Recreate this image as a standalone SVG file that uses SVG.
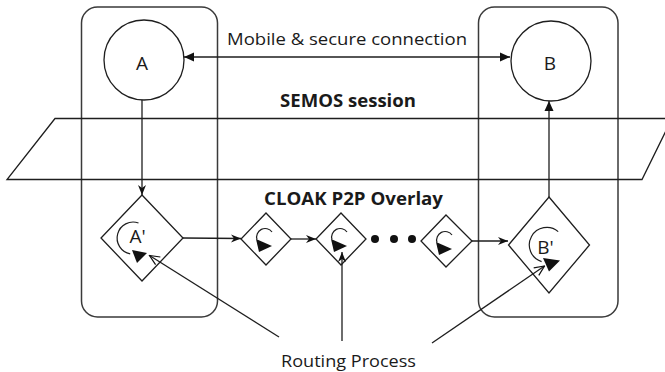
<svg xmlns="http://www.w3.org/2000/svg" width="665" height="372" viewBox="0 0 665 372">
<style>
.box{fill:none;stroke:#3a3a3a;stroke-width:1.5}
.ln{fill:none;stroke:#1e1e1e;stroke-width:1.3}
.nd{fill:#fff;stroke:#1e1e1e;stroke-width:1.3}
.arc{fill:none;stroke:#1e1e1e;stroke-width:1.2}
.tri{fill:#111;stroke:none}
.t{font-family:"Open Sans","Noto Sans",sans-serif;font-size:17px;fill:#1a1a1a;text-anchor:middle}
.big{font-size:19px}
.b{font-weight:bold}
</style>
<defs>
<marker id="solid" markerUnits="userSpaceOnUse" viewBox="-11 -5 12 10" markerWidth="12" markerHeight="10" refX="0" refY="0" orient="auto-start-reverse">
<path d="M0,0 L-10,-4.5 L-10,4.5 z" fill="#111"/>
</marker>
<marker id="stealth" markerUnits="userSpaceOnUse" viewBox="-11 -5 12 10" markerWidth="12" markerHeight="10" refX="0" refY="0" orient="auto">
<path d="M0,0 L-10,-4 L-7,0 L-10,4 z" fill="#111"/>
</marker>
<marker id="open" markerUnits="userSpaceOnUse" viewBox="-12 -6 13 12" markerWidth="13" markerHeight="12" refX="0" refY="0" orient="auto">
<path d="M-10,-4.5 L0,0 L-10,4.5" fill="none" stroke="#111" stroke-width="1.2"/>
</marker>
<g id="spin">
<path class="arc" d="M6,-7 A8.5 8.5 0 0 0 -9,0.5"/>
<polygon class="tri" points="-10,0 -7,13 6,7"/>
</g>
</defs>

<g id="domainA"><rect class="box" x="81.5" y="7" width="136" height="310" rx="16"/></g>
<g id="domainB"><rect class="box" x="478.5" y="7" width="139.5" height="310" rx="16"/></g>

<g id="semos-plane">
<polyline class="ln" points="690,118.5 55,118.5 7,179.5 642,179.5 672,118.5"/>
</g>

<g id="nodeA"><circle class="nd" cx="144" cy="60" r="40"/><text class="t big" x="142" y="70">A</text></g>
<g id="nodeB"><circle class="nd" cx="551" cy="61" r="40"/><text class="t big" x="550" y="70">B</text></g>

<g id="nodeA2">
<polygon class="nd" points="142,195 183,238 142,281 101,238"/>
<path class="arc" d="M138.5,223 A16 16 0 1 0 130.2,253.8"/>
<polygon class="tri" points="132,250 137,263 147,253"/>
<text class="t big" x="137.5" y="242.5">A'</text>
</g>
<g id="relay1"><polygon class="nd" points="266,213 291,239 266,265 241,239"/><use href="#spin" x="266" y="239"/></g>
<g id="relay2"><polygon class="nd" points="341,213 366,239 341,265 316,239"/><use href="#spin" x="341" y="239"/></g>
<g id="dots"><circle cx="375" cy="239" r="4" fill="#111"/><circle cx="394" cy="239" r="4" fill="#111"/><circle cx="412" cy="239" r="4" fill="#111"/></g>
<g id="relay3"><polygon class="nd" points="446,215 472,241 446,267 421,241"/><use href="#spin" x="446" y="242"/></g>
<g id="nodeB2">
<polygon class="nd" points="549,197 589.5,245 549,293 508.5,245"/>
<path class="arc" d="M558.2,231.6 A17.5 17.5 0 1 0 541.6,261.6"/>
<polygon class="tri" points="543,258 549,271.5 560,260.5"/>
<text class="t big" x="545.5" y="253.5">B'</text>
</g>

<g id="connectors">
<line class="ln" x1="184" y1="57" x2="510" y2="57" marker-start="url(#solid)" marker-end="url(#solid)"/>
<line class="ln" x1="142" y1="100" x2="142" y2="195" marker-end="url(#stealth)"/>
<line class="ln" x1="549" y1="197" x2="549" y2="101" marker-end="url(#solid)"/>
<line class="ln" x1="183" y1="238" x2="241" y2="238.5" marker-end="url(#stealth)"/>
<line class="ln" x1="291" y1="239" x2="316" y2="239" marker-end="url(#stealth)"/>
<line class="ln" x1="472" y1="241" x2="508" y2="241" marker-end="url(#stealth)"/>
<line class="ln" x1="279" y1="337" x2="149.5" y2="255.5" marker-end="url(#open)"/>
<line class="ln" x1="342" y1="341" x2="342" y2="252" marker-end="url(#stealth)"/>
<line class="ln" x1="432" y1="343" x2="544.5" y2="266" marker-end="url(#open)"/>
</g>

<g id="labels">
<text class="t" x="347" y="45" textLength="240" lengthAdjust="spacingAndGlyphs">Mobile &amp; secure connection</text>
<text class="t b" x="348" y="106.5" textLength="136" lengthAdjust="spacingAndGlyphs">SEMOS session</text>
<text class="t b" x="353.5" y="205" textLength="179" lengthAdjust="spacingAndGlyphs">CLOAK P2P Overlay</text>
<text class="t" x="348.5" y="366.5" textLength="135" lengthAdjust="spacingAndGlyphs">Routing Process</text>
</g>
</svg>
